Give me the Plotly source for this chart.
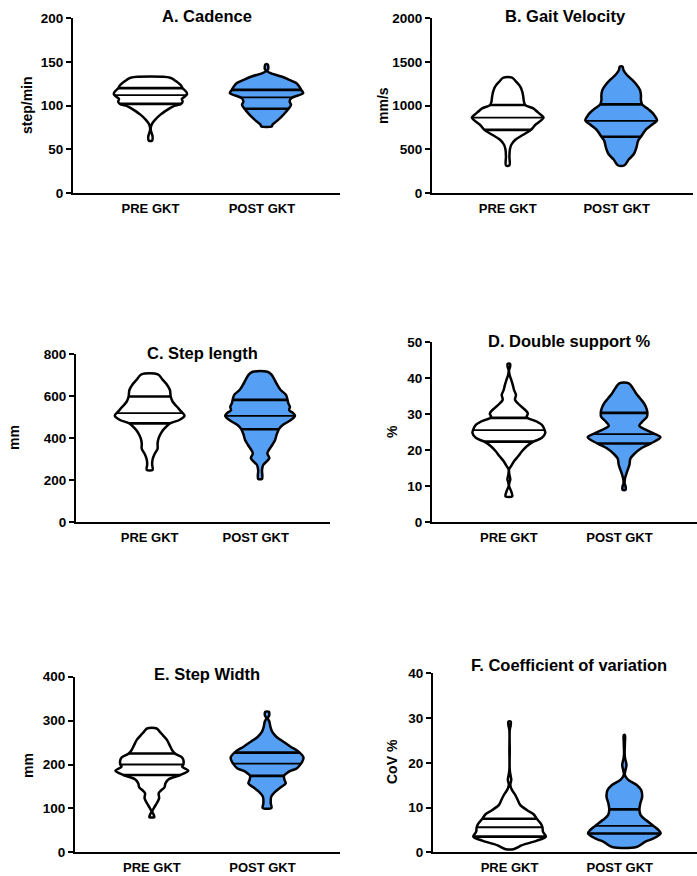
import numpy as np
import plotly.graph_objects as go

# ---------------- data ----------------
GROUPS = ["PRE GKT", "POST GKT"]
PANEL_TITLES = ["A. Cadence", "B. Gait Velocity", "C. Step length",
                "D. Double support %", "E. Step Width", "F. Coefficient of variation"]
Y_TITLES = ["step/min", "mm/s", "mm", "%", "mm", "CoV %"]
Y_TICKS = [[0, 50, 100, 150, 200], [0, 500, 1000, 1500, 2000], [0, 200, 400, 600, 800],
           [0, 10, 20, 30, 40, 50], [0, 100, 200, 300, 400], [0, 10, 20, 30, 40]]

# violin profiles: value levels and relative kernel density at each level
CAD_PRE_Y = [60, 64.8, 68.6, 72.4, 76.2, 80, 83.8, 89.5, 95.2, 99, 102, 104.6, 107.7, 110.3, 112.9, 116, 119.8, 123.6, 129.3, 131.9]
CAD_PRE_D = [1.6, 2.2, 1.2, 0.3, 0.6, 2, 4.6, 9.8, 17, 22.5, 30.8, 32.5, 31.7, 34.7, 37, 36, 32.5, 30.5, 24, 20]
CAD_POST_Y = [76.5, 78.2, 82, 87.7, 93.4, 97.2, 101, 104.8, 108.6, 111.6, 114.3, 118.1, 121.9, 125.7, 129.5, 133.3, 137.1, 139.5, 141.5, 144.5, 147]
CAD_POST_D = [5.5, 6, 10, 15.5, 20, 22.8, 24.7, 23.3, 25, 31.7, 37, 35, 33, 30, 23, 15, 4, 0.4, 1.6, 1.8, 1.2]

VEL_PRE_Y = [318, 420, 500, 554, 611, 668, 724, 779, 817, 866, 893, 930, 969, 1007, 1044, 1101, 1158, 1215, 1272, 1319]
VEL_PRE_D = [1.8, 1.8, 2.3, 3.8, 8, 16.2, 24.3, 28.7, 33.3, 37.5, 35, 31, 26.7, 18.5, 17, 16.3, 15.3, 13.3, 9, 4.5]
VEL_POST_Y = [320, 388, 445, 521, 597, 646, 730, 787, 830, 901, 958, 1015, 1065, 1122, 1179, 1236, 1293, 1350, 1407, 1445]
VEL_POST_D = [3.5, 8, 13, 15.8, 17.5, 20.5, 25.8, 32.5, 37.2, 33.8, 28.3, 21.7, 20.5, 20.5, 19.5, 16.2, 11.5, 6, 2.3, 1.5]

LEN_PRE_Y = [250, 275, 300, 325, 350, 375, 400, 425, 447, 471, 487, 508, 527, 550, 574, 599, 630, 654, 678, 704]
LEN_PRE_D = [3, 2.5, 3, 5, 8, 8, 9, 11.5, 15, 20.5, 30, 35.3, 32, 27.7, 23.3, 21.3, 20.5, 17.7, 13.3, 8.3]
LEN_POST_Y = [207, 249, 273, 305, 328, 344, 368, 392, 416, 443, 463, 487, 507, 520, 534, 550, 566, 583, 607, 630, 654, 678, 701, 717]
LEN_POST_D = [2, 2, 3.2, 9.5, 7.5, 9, 12.5, 15.5, 17, 19.3, 23.3, 31.7, 36, 34, 30, 30.8, 29.2, 28.3, 26.7, 21.2, 17.8, 15, 12.2, 7.5]

DS_PRE_Y = [7.2, 8.7, 10.1, 11.0, 11.9, 13.3, 14.7, 15.6, 17.0, 18.4, 19.8, 21.2, 22.4, 23.4, 24.8, 25.7, 26.9, 28.0, 29.2, 30.2, 31.0, 31.7, 32.6, 34.0, 35.4, 36.7, 38.1, 39.5, 40.9, 42.3, 43.2, 44.0]
DS_PRE_D = [3.5, 2.3, 0.2, 0.5, 1.5, 0.5, 0.2, 2.3, 5.6, 10, 14, 19.2, 25.8, 34.5, 38.3, 37.5, 35.3, 29.2, 18.7, 20, 18, 15, 11.2, 6.5, 7.5, 5.5, 4.2, 2.6, 0.8, 0.2, 1.3, 1.3]
DS_POST_Y = [9, 10.1, 10.8, 12.2, 14.0, 15.9, 17.7, 19.1, 20.5, 21.9, 23.6, 24.5, 25.6, 26.8, 27.9, 29.3, 30.4, 31.6, 33.0, 34.4, 35.8, 37.2, 38.6]
DS_POST_D = [1.5, 1.5, 0.5, 1, 3, 5.5, 6.6, 11, 17.5, 27.8, 37.8, 32.2, 23.3, 15.8, 18.7, 23.8, 24.2, 23.3, 20.8, 16.7, 12.5, 9.2, 5]

SW_PRE_Y = [80, 85, 92.7, 100.3, 111.7, 123, 134.5, 140, 148, 157, 166, 176, 186, 195, 200, 210, 216, 225, 233, 244, 256, 267, 275, 282]
SW_PRE_D = [2.5, 2, 0.4, 2, 5, 7.5, 7, 9, 13, 14, 17, 29.2, 37.5, 31.2, 32.5, 32.5, 31, 23.8, 20.8, 18.3, 15.5, 11.2, 8, 5]
SW_POST_Y = [101, 111.6, 126.8, 138.2, 148.1, 157.2, 164.8, 174, 183.8, 191.4, 202, 208, 216, 229.2, 240.6, 252, 263.3, 274.7, 286.1, 297.5, 305.1, 312.7, 320]
SW_POST_D = [4.5, 3.8, 4.3, 8.5, 14.2, 19.2, 18, 17.5, 22.5, 30.8, 35, 36.5, 37.5, 32.5, 24.2, 16.7, 9.5, 5.2, 3.4, 2.4, 0.8, 2.3, 1.8]

COV_PRE_Y = [0.7, 1.6, 2.6, 3.5, 4.6, 5.6, 6.4, 7.5, 8.5, 9.4, 10.6, 11.7, 12.8, 14.0, 15.1, 16.2, 16.9, 18.4, 22.8, 27.3, 28.4, 29.2]
COV_PRE_D = [4, 13, 28.3, 37.7, 34.7, 34.2, 32.5, 28.3, 25, 18.3, 11, 8.5, 6, 2.3, 0.8, 1.8, 1.3, 0.2, 0.2, 0.2, 1.2, 1.2]
COV_POST_Y = [1.2, 2.4, 3.1, 4.2, 5.0, 5.9, 7.2, 8.3, 9.6, 11, 12.4, 13.9, 15.0, 16.2, 17.3, 18.0, 19.5, 21.0, 22.0, 24.5, 26.2]
COV_POST_D = [12.5, 21.7, 30, 37.3, 35, 30, 22.2, 16.7, 15.5, 16.5, 18.3, 17.3, 13, 4, 0.5, 0.8, 2.2, 0.8, 0.3, 0.6, 0.6]

# quartiles [Q1, median, Q3] for PRE and POST
CAD_QUART = [[102, 112, 120], [96.5, 109.5, 118]]
VEL_QUART = [[724, 864, 1007], [646, 827, 1015]]
LEN_QUART = [[471, 520, 599], [443, 507, 583]]
DS_QUART = [[22.4, 25.6, 29.0], [21.9, 24.5, 30.4]]
SW_QUART = [[176, 200, 225], [174, 202, 227]]
COV_QUART = [[3.5, 5.6, 7.5], [4.2, 5.9, 9.6]]

PANELS = [
    ((CAD_PRE_Y, CAD_PRE_D), (CAD_POST_Y, CAD_POST_D), CAD_QUART),
    ((VEL_PRE_Y, VEL_PRE_D), (VEL_POST_Y, VEL_POST_D), VEL_QUART),
    ((LEN_PRE_Y, LEN_PRE_D), (LEN_POST_Y, LEN_POST_D), LEN_QUART),
    ((DS_PRE_Y, DS_PRE_D), (DS_POST_Y, DS_POST_D), DS_QUART),
    ((SW_PRE_Y, SW_PRE_D), (SW_POST_Y, SW_POST_D), SW_QUART),
    ((COV_PRE_Y, COV_PRE_D), (COV_POST_Y, COV_POST_D), COV_QUART),
]

# ---------------- layout / style ----------------
W, H = 697, 876
FONT = "Liberation Sans, Arial, sans-serif"
FILLS = ["white", "#55A0F5"]
VIOLIN_HALF = 0.316
X_RANGE = [-0.667, 1.633]
LABEL_POS = [0, 0.96]
# plot boxes in pixels: (left, right, top, bottom)
BOXES = [(73, 340, 18, 193.3), (432, 693, 18, 193.3),
         (76, 330, 354.3, 522.3), (432, 697, 342.3, 522.3),
         (75, 340, 676.7, 852.3), (433, 697, 673.3, 852.3)]
TITLE_POS = [(207, 16), (565, 16), (202, 353), (569, 341), (207, 674), (569, 665)]
YTITLE_POS = [(27, 105), (383, 105), (14, 437), (392, 432), (28, 765), (392, 762)]

fig = go.Figure()
annotations = []


def outline(center, ys, dens):
    ys = np.asarray(ys, float)
    d = np.asarray(dens, float)
    w = d / d.max() * VIOLIN_HALF
    x = np.concatenate([center + w, (center - w)[::-1], [center + w[0]]])
    y = np.concatenate([ys, ys[::-1], [ys[0]]])
    return x, y, w


for i, (pre, post, quarts) in enumerate(PANELS):
    xa = "x" if i == 0 else f"x{i+1}"
    ya = "y" if i == 0 else f"y{i+1}"
    for g, (ys, dens) in enumerate([pre, post]):
        x, y, w = outline(g, ys, dens)
        fig.add_trace(go.Scatter(
            x=x, y=y, mode="lines", fill="toself", fillcolor=FILLS[g],
            line=dict(color="black", width=2.5, shape="spline", smoothing=0.9),
            xaxis=xa, yaxis=ya, hoverinfo="skip", showlegend=False))
        for k, q in enumerate(quarts[g]):
            hw = float(np.interp(q, ys, w))
            fig.add_trace(go.Scatter(
                x=[g - hw, g + hw], y=[q, q], mode="lines",
                line=dict(color="black", width=1.8 if k == 1 else 2.6),
                xaxis=xa, yaxis=ya, hoverinfo="skip", showlegend=False))

    l, r, t, b = BOXES[i]
    xkey = "xaxis" if i == 0 else f"xaxis{i+1}"
    ykey = "yaxis" if i == 0 else f"yaxis{i+1}"
    yt = Y_TICKS[i]
    fig.layout[xkey] = dict(
        domain=[l / W, r / W], anchor=ya, range=X_RANGE, automargin=False,
        showline=True, linecolor="black", linewidth=2, showgrid=False, zeroline=False,
        tickmode="array", tickvals=LABEL_POS, ticktext=GROUPS,
        ticks="outside", ticklen=2, tickcolor="rgba(0,0,0,0)",
        tickfont=dict(family=FONT, size=13, color="black", weight="bold"),
        fixedrange=True)
    fig.layout[ykey] = dict(
        domain=[1 - b / H, 1 - t / H], anchor=xa, range=[yt[0], yt[-1]], automargin=False,
        showline=True, linecolor="black", linewidth=2, showgrid=False, zeroline=False,
        tickmode="array", tickvals=yt, ticks="outside", ticklen=5, tickwidth=2,
        tickcolor="black",
        tickfont=dict(family=FONT, size=13.5, color="black", weight="bold"),
        fixedrange=True)

    tx, ty = TITLE_POS[i]
    annotations.append(dict(
        text=PANEL_TITLES[i], x=tx / W, y=1 - ty / H, xref="paper", yref="paper",
        xanchor="center", yanchor="middle", showarrow=False,
        font=dict(family=FONT, size=16.5, color="black", weight="bold")))
    ax_, ay_ = YTITLE_POS[i]
    annotations.append(dict(
        text=Y_TITLES[i], x=ax_ / W, y=1 - ay_ / H, xref="paper", yref="paper",
        xanchor="center", yanchor="middle", showarrow=False, textangle=-90,
        font=dict(family=FONT, size=14, color="black", weight="bold")))

fig.update_layout(
    width=W, height=H, margin=dict(l=0, r=0, t=0, b=0, autoexpand=False),
    paper_bgcolor="white", plot_bgcolor="white",
    annotations=annotations, showlegend=False)

fig.write_html("out.html", config={"displayModeBar": False},
               post_script="document.body.style.margin='0';document.body.style.overflow='hidden';")
